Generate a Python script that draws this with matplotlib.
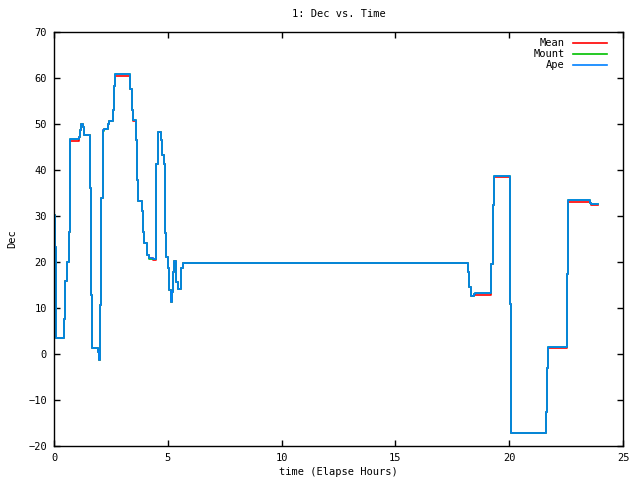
import matplotlib
matplotlib.use("Agg")
import matplotlib.pyplot as plt

hours = [0.00, 0.03, 0.07, 0.45, 0.50, 0.56, 0.66, 0.69, 0.72, 1.11, 1.14, 1.18,
         1.26, 1.30, 1.58, 1.63, 1.68, 1.95, 1.99, 2.03, 2.08, 2.14, 2.20, 2.36,
         2.42, 2.61, 2.64, 2.70, 3.34, 3.42, 3.45, 3.61, 3.64, 3.68, 3.85, 3.90,
         3.95, 4.07, 4.17, 4.36, 4.48, 4.50, 4.56, 4.70, 4.76, 4.82, 4.87, 4.92,
         5.03, 5.07, 5.13, 5.20, 5.24, 5.29, 5.37, 5.46, 5.60, 5.65, 5.70, 18.20,
         18.24, 18.30, 18.46, 18.50, 19.20, 19.27, 19.33, 20.03, 20.07, 21.60, 21.65,
         21.71, 22.55, 22.59, 23.55, 23.59, 23.89]

ape = [30.2, 23.3, 3.4, 7.6, 15.9, 20.1, 26.6, 40.0, 46.7, 47.2, 48.8, 49.9,
       49.4, 47.6, 36.0, 12.8, 1.2, 0.5, -1.3, 10.6, 34.0, 48.7, 48.9, 49.9,
       50.65, 53.0, 58.3, 60.8, 57.7, 53.0, 50.9, 46.5, 37.8, 33.3, 31.0, 26.6,
       24.1, 21.5, 20.9, 20.65, 27.7, 41.4, 48.3, 46.5, 43.3, 41.4, 26.2, 21.0,
       18.6, 13.9, 11.2, 13.5, 17.9, 20.2, 15.7, 14.1, 18.6, 19.7, 19.8, 17.9,
       14.5, 12.6, 13.0, 13.2, 19.5, 32.4, 38.8, 10.9, -17.2, -12.7, -3.1,
       1.6, 17.3, 33.4, 32.9, 32.5, 32.5]

mean = [30.2, 23.3, 3.4, 7.6, 15.9, 20.1, 26.6, 40.0, 46.2, 47.2, 48.8, 49.9,
        49.4, 47.6, 36.0, 12.8, 1.2, 0.5, -1.3, 10.6, 34.0, 48.7, 48.9, 49.9,
        50.65, 53.0, 58.3, 60.5, 57.7, 53.0, 50.7, 46.5, 37.8, 33.3, 31.0, 26.6,
        24.1, 21.5, 20.9, 20.4, 27.7, 41.4, 48.3, 46.5, 43.3, 41.4, 26.2, 21.0,
        18.6, 13.9, 11.2, 13.5, 17.9, 20.2, 15.7, 14.1, 18.6, 19.7, 19.8, 17.9,
        14.5, 12.6, 13.0, 12.9, 19.5, 32.4, 38.5, 10.9, -17.2, -12.7, -3.1,
        1.3, 17.3, 33.1, 32.9, 32.3, 32.3]

mount = [30.2, 23.3, 3.4, 7.6, 15.9, 20.1, 26.6, 40.0, 46.7, 47.2, 48.8, 49.9,
         49.4, 47.6, 36.0, 12.8, 1.2, 0.5, -1.3, 10.6, 34.0, 48.4, 48.9, 49.9,
         50.65, 53.0, 58.3, 60.8, 57.7, 53.0, 50.9, 46.5, 37.8, 33.3, 31.0, 26.6,
         24.1, 21.5, 20.7, 20.65, 27.7, 41.4, 48.3, 46.5, 43.3, 41.4, 26.2, 21.0,
         18.6, 13.9, 11.2, 13.5, 17.9, 20.2, 15.7, 14.1, 18.6, 19.7, 19.8, 17.9,
         14.5, 12.6, 13.0, 13.2, 19.5, 32.4, 38.8, 10.9, -17.2, -12.7, -3.1,
         1.6, 17.3, 33.4, 32.9, 32.5, 32.5]

xticks = [0, 5, 10, 15, 20, 25]
yticks = [-20, -10, 0, 10, 20, 30, 40, 50, 60, 70]

plt.rcParams['font.family'] = ['DejaVu Sans Mono']
plt.rcParams['font.size'] = 7.5

fig = plt.figure(figsize=(6.4, 4.8), dpi=100)
ax = fig.add_axes([54/640, 1-446/480, (623-54)/640, (446-32)/480])

ax.plot(hours, mean, drawstyle='steps-post', color='#ff0000', lw=1.2, label='Mean')
ax.plot(hours, mount, drawstyle='steps-post', color='#00c000', lw=1.2, label='Mount')
ax.plot(hours, ape, drawstyle='steps-post', color='#0080ff', lw=1.2, label='Ape')

ax.set_xlim(0, 25)
ax.set_ylim(-20, 70)
ax.set_xticks(xticks)
ax.set_yticks(yticks)
ax.tick_params(direction='in', top=True, right=True, length=4.5, width=1, pad=5)
for s in ax.spines.values():
    s.set_linewidth(1)

ax.set_title('1: Dec vs. Time', fontsize=7.5, pad=11)
ax.set_xlabel('time (Elapse Hours)', labelpad=3)
ax.set_ylabel('Dec', labelpad=8)

ax.legend(loc='upper right', bbox_to_anchor=(0.982, 1.0), frameon=False,
          markerfirst=False, handlelength=3.2, labelspacing=0.1,
          borderaxespad=0.2, handletextpad=0.8)

fig.savefig('out.png', dpi=100)
